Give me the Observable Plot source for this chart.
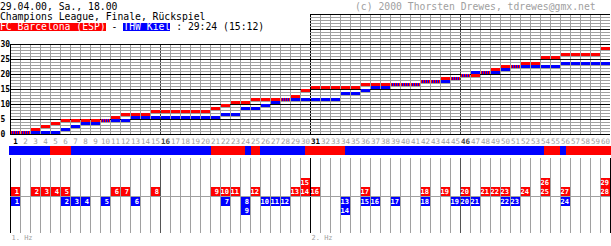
<!DOCTYPE html>
<html><head><meta charset="utf-8">
<script src="https://cdn.jsdelivr.net/npm/d3@7"></script>
<script src="https://cdn.jsdelivr.net/npm/@observablehq/plot@0.6"></script>
<style>
html,body{margin:0;padding:0;background:#fff;}
#wrap{position:relative;width:611px;height:246px;overflow:hidden;font-family:"DejaVu Sans Mono",monospace;}
.t{position:absolute;left:0;font-size:9.75px;line-height:10px;white-space:pre;color:#000;}
.box{display:inline-block;height:8px;line-height:8px;color:#fff;vertical-align:top;}
</style></head><body>
<div id="wrap">
  <div id="chartA" style="position:absolute;left:0;top:0"></div>
  <div id="chartB" style="position:absolute;left:0;top:144px"></div>
  <div class="t" id="l1" style="top:1.6px"></div>
  <div class="t" id="l2" style="top:11.6px"></div>
  <div class="t" id="l3" style="top:23px;height:8px;line-height:8px"></div>
  <div class="t" id="cr" style="top:1.6px;left:355px;color:#a0a0a0"></div>
</div>
<script>
// ---- data ----
const matchInfo = "29.04.00, Sa., 18.00";
const competition = "Champions League, Finale, Rückspiel";
const homeTeam = "FC Barcelona (ESP)";
const awayTeam = "THW Kiel";
const finalScore = [29, 24];
const halfScore = [15, 12];
const credit = "(c) 2000 Thorsten Drewes, tdrewes@gmx.net";

// minute in which each goal was scored (in order)
const barcaGoalMinutes = [1,3,4,5,6,11,12,15,21,22,23,25,29,30,30,31,36,42,44,46,48,49,50,52,54,54,56,60,60];
const kielGoalMinutes  = [1,6,7,8,10,13,22,24,24,26,27,28,34,34,36,37,39,42,45,46,47,50,51,56];

// coloured strip below the minute labels (start/end in minutes, team)
const stripStart = [-0.1, 4.0, 6.1, 20.1, 23.5, 24.1, 25.0, 29.5, 33.5, 53.4, 55.0, 55.6];
const stripEnd   = [4.0, 6.1, 20.1, 23.5, 24.1, 25.0, 29.5, 33.5, 53.4, 55.0, 55.6, 60.1];
const stripTeam  = ["Kiel","Barca","Kiel","Barca","Kiel","Barca","Kiel","Barca","Kiel","Barca","Kiel","Barca"];

const minutes = d3.range(1, 61);
const yTicks = [0, 5, 10, 15, 20, 25, 30];
const boldBlackMinutes = [1, 31];
const boldGreyMinutes = [16, 46];
const halfLabels = ["1. Hz", "2. Hz"];
const halfStarts = [0, 30];

// ---- header ----
document.getElementById("l1").textContent = matchInfo;
document.getElementById("l2").textContent = competition;
document.getElementById("cr").textContent = credit;
document.getElementById("l3").innerHTML =
  `<span class="box" style="background:#ff0000">${homeTeam}</span> - <span class="box" style="background:#0000ff">${awayTeam}</span> : ${finalScore[0]}:${finalScore[1]} (${halfScore[0]}:${halfScore[1]})`;

const RED = "#ff0000", BLUE = "#0000ff", GRID = "#a0a0a0";

// ---- derived tables ----
const scoreRows = minutes.map(m => ({
  m,
  b: barcaGoalMinutes.filter(g => g <= m).length,
  k: kielGoalMinutes.filter(g => g <= m).length
}));
const ties = scoreRows.filter(d => d.b === d.k && d.b > 0);
const reds = scoreRows.filter(d => d.b !== d.k && d.b > 0);
const blues = scoreRows.filter(d => d.b !== d.k && d.k > 0);

const hLines = d3.range(0, 41).map(v => ({v, x1: v > 30 ? 30 : 0}));
const vLines = d3.range(1, 61).map(m => ({m, top: m >= 30 ? 40 : 30}));
const strip = stripStart.map((s, i) => ({s, e: stripEnd[i], team: stripTeam[i]}));

const chartA = Plot.plot({
  width: 611, height: 156, margin: 0,
  x: {domain: [0, 60], range: [10, 610], axis: null},
  y: {domain: [0, 40], range: [134, 14], axis: null},
  style: {background: "transparent", fontFamily: "DejaVu Sans Mono", overflow: "visible"},
  marks: [
    Plot.ruleY(hLines.filter(d => d.v % 5 !== 0), {y: "v", x1: "x1", x2: 60, stroke: GRID}),
    Plot.ruleX(vLines.filter(d => d.m % 15 !== 0), {x: "m", y1: 0, y2: "top", stroke: GRID}),
    Plot.ruleY(hLines.filter(d => d.v % 5 === 0), {y: "v", x1: "x1", x2: 60, stroke: "#000"}),
    Plot.ruleX([0], {x: d => d, y1: 0, y2: 30, stroke: "#000"}),
    Plot.ruleX(vLines.filter(d => d.m === 15 || d.m === 45), {x: "m", y1: 0, y2: "top", stroke: "#444", strokeDasharray: "2,1"}),
    Plot.ruleX(vLines.filter(d => d.m === 30), {x: "m", y1: 0, y2: "top", stroke: "#000", strokeDasharray: "2,1"}),
    Plot.rect(reds, {x1: d => d.m - 1, x2: "m", y1: d => d.b - 1, y2: "b", fill: RED, insetLeft: 1}),
    Plot.rect(blues, {x1: d => d.m - 1, x2: "m", y1: d => d.k - 1, y2: "k", fill: BLUE, insetLeft: 1}),
    Plot.rect(ties, {x1: d => d.m - 1, x2: "m", y1: d => d.b - 1, y2: "b", fill: "url(#tie)", insetLeft: 1}),
    Plot.text(yTicks, {y: d => d, text: d => String(d), frameAnchor: "left", textAnchor: "start", fontSize: 8, fontWeight: "bold", fill: "#000"}),
    Plot.text(minutes.filter(m => !boldBlackMinutes.includes(m) && !boldGreyMinutes.includes(m)),
      {x: d => d - 0.5, y: -2.2, text: d => String(d), fontSize: 7.5, fill: GRID}),
    Plot.text(boldBlackMinutes, {x: d => d - 0.5, y: -2.2, text: d => String(d), fontSize: 7.5, fontWeight: "bold", fill: "#000"}),
    Plot.text(boldGreyMinutes, {x: d => d - 0.5, y: -2.2, text: d => String(d), fontSize: 7.5, fontWeight: "bold", fill: "#444"}),
    Plot.rect(strip.filter(d => d.team === "Barca"), {x1: "s", x2: "e", y1: -4, y2: -7, fill: RED}),
    Plot.rect(strip.filter(d => d.team === "Kiel"), {x1: "s", x2: "e", y1: -4, y2: -7, fill: BLUE})
  ]
});
const defs = d3.select(chartA).insert("defs", ":first-child");
const pat = defs.append("pattern").attr("id", "tie").attr("patternUnits", "userSpaceOnUse").attr("width", 2).attr("height", 3);
pat.append("rect").attr("x", 0).attr("y", 0).attr("width", 1).attr("height", 3).attr("fill", BLUE);
pat.append("rect").attr("x", 1).attr("y", 0).attr("width", 1).attr("height", 3).attr("fill", RED);
document.getElementById("chartA").appendChild(chartA);

const stackGoals = arr => arr.map((m, i) => ({m, n: i + 1, level: arr.slice(0, i).filter(x => x === m).length + 1}));
const goalsB = stackGoals(barcaGoalMinutes);
const goalsK = stackGoals(kielGoalMinutes);
const halves = halfLabels.map((label, i) => ({label, start: halfStarts[i]}));

const chartB = Plot.plot({
  width: 611, height: 102, marginTop: 14, marginBottom: 13, marginLeft: 0, marginRight: 0,
  x: {domain: [0, 60], range: [10, 610], axis: null},
  y: {domain: [-4, 4], range: [88, 16], axis: null},
  style: {background: "transparent", fontFamily: "DejaVu Sans Mono", overflow: "visible"},
  marks: [
    Plot.ruleX(minutes.filter(m => m % 15 !== 0), {stroke: GRID}),
    Plot.ruleX([15, 45], {stroke: "#555"}),
    Plot.ruleX([0, 30, 60], {stroke: "#000"}),
    Plot.ruleY([0], {x1: 0, x2: 60, stroke: GRID}),
    Plot.rect(goalsB, {x1: d => d.m - 1, x2: "m", y1: d => d.level - 1, y2: "level", fill: RED, insetLeft: 1}),
    Plot.rect(goalsK, {x1: d => d.m - 1, x2: "m", y1: d => 1 - d.level, y2: d => -d.level, fill: BLUE, insetLeft: 1, dy: 1}),
    Plot.text(goalsB, {x: "m", y: d => d.level - 0.5, text: d => String(d.n), textAnchor: "end", dx: -1.5, fill: "#fff", fontWeight: "bold", fontSize: 7}),
    Plot.text(goalsK, {x: "m", y: d => 0.5 - d.level, text: d => String(d.n), textAnchor: "end", dx: -1.5, dy: 1, fill: "#fff", fontWeight: "bold", fontSize: 7}),
    Plot.text(halves, {x: "start", text: "label", frameAnchor: "bottom", textAnchor: "start", dx: 1, dy: 6, fill: GRID, fontSize: 7})
  ]
});
document.getElementById("chartB").appendChild(chartB);
</script>
</body></html>
